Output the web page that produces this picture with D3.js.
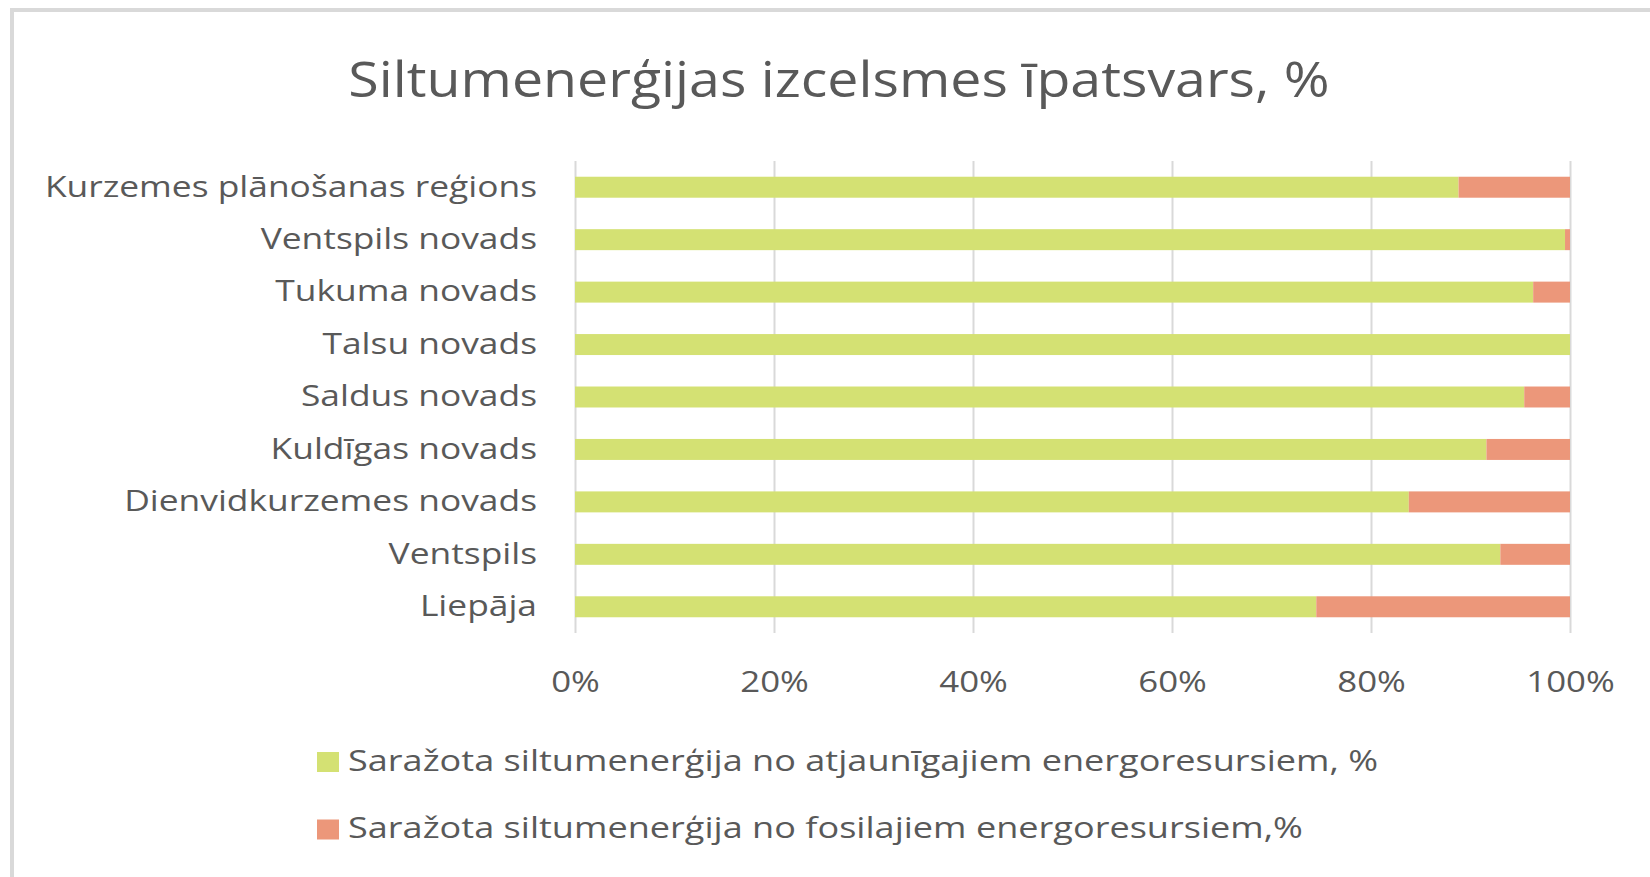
<!DOCTYPE html>
<html>
<head>
<meta charset="utf-8">
<script src="https://cdn.jsdelivr.net/npm/d3@7"></script>
<style>
    body { margin: 0; background: #fff; }
    text { font-family: "Open Sans", sans-serif; fill: #595959; }
</style>
</head>
<body>
<script>
// data from the chart
var categories = ["Kurzemes plānošanas reģions", "Ventspils novads", "Tukuma novads", "Talsu novads",
    "Saldus novads", "Kuldīgas novads", "Dienvidkurzemes novads", "Ventspils", "Liepāja"];
var renewable = [88.8, 99.5, 96.3, 100, 95.4, 91.6, 83.8, 93.0, 74.5];
var fossil = [11.2, 0.5, 3.7, 0, 4.6, 8.4, 16.2, 7.0, 25.5];
var xTicks = [0, 20, 40, 60, 80, 100];
var seriesNames = ["Saražota siltumenerģija no atjaunīgajiem energoresursiem, %",
    "Saražota siltumenerģija no fosilajiem energoresursiem,%"];
var colors = ["#d4e173", "#ec977a"];
var title = "Siltumenerģijas izcelsmes īpatsvars, %";

var W = 1650, H = 877;
// plot area (window.top is taken, so own names)
var plotLeft = 575, plotRight = 1570, plotTop = 161, plotBottom = 633;

var svg = d3.select("body").append("svg")
    .attr("width", W)
    .attr("height", H);

// grey chart frame (only top and left are in the picture)
svg.append("rect")
    .attr("x", 12).attr("y", 10)
    .attr("width", W + 20).attr("height", H + 20)
    .attr("fill", "none")
    .attr("stroke", "#d9d9d9")
    .attr("stroke-width", 4);

var rows = categories.map(function (c, i) {
    return { cat: c, a: renewable[i], b: fossil[i] };
});
var stack = d3.stack().keys(["a", "b"])(rows);

var x = d3.scaleLinear().domain([0, 100]).range([plotLeft, plotRight]);
var y = d3.scaleBand().domain(categories).range([plotTop, plotBottom]).paddingInner(0.6).paddingOuter(0.3);

// text in the picture is wider than the font, stretch it sideways
function stretch(sx) {
    return function (sel) {
        sel.each(function () {
            var t = d3.select(this);
            var tx = +t.attr("x") || 0;
            t.attr("x", tx / sx).attr("transform", "scale(" + sx + ",1)");
        });
    };
}

// gridlines
svg.append("g")
    .attr("transform", "translate(0," + plotBottom + ")")
    .call(d3.axisBottom(x).tickValues(xTicks).tickSize(-(plotBottom - plotTop)).tickFormat(""))
    .call(function (g) { g.select(".domain").remove(); })
    .selectAll("line").attr("stroke", "#d9d9d9").attr("stroke-width", 2);

// bars
svg.selectAll(".serie")
    .data(stack)
    .enter().append("g")
    .attr("fill", function (d, i) { return colors[i]; })
    .selectAll("rect")
    .data(function (d) { return d; })
    .enter().append("rect")
    .attr("x", function (d) { return x(d[0]); })
    .attr("width", function (d) { return x(d[1]) - x(d[0]); })
    .attr("y", function (d) { return y(d.data.cat); })
    .attr("height", y.bandwidth());

// x labels
var xAxis = svg.append("g")
    .attr("transform", "translate(0," + plotBottom + ")")
    .call(d3.axisBottom(x).tickValues(xTicks).tickSize(0).tickPadding(38)
        .tickFormat(function (d) { return d + "%"; }));
xAxis.select(".domain").remove();
xAxis.attr("font-family", null).attr("font-size", null);
xAxis.selectAll("text").attr("font-size", 29).attr("fill", null).call(stretch(1.2));

// y labels
var yAxis = svg.append("g")
    .attr("transform", "translate(" + plotLeft + ",0)")
    .call(d3.axisLeft(y).tickSize(0).tickPadding(38));
yAxis.select(".domain").remove();
yAxis.attr("font-family", null).attr("font-size", null);
yAxis.selectAll("text").attr("font-size", 29).attr("fill", null).call(stretch(1.22));

// title
svg.append("text")
    .attr("x", 839).attr("y", 97)
    .attr("text-anchor", "middle")
    .attr("font-size", 50)
    .text(title)
    .call(stretch(1.11));

// legend
var legend = svg.selectAll(".legend")
    .data(seriesNames)
    .enter().append("g")
    .attr("transform", function (d, i) { return "translate(317," + (752 + i * 67.5) + ")"; });
legend.append("rect")
    .attr("width", 22).attr("height", 20)
    .attr("fill", function (d, i) { return colors[i]; });
legend.append("text")
    .attr("x", 31).attr("y", 18.5)
    .attr("font-size", 29)
    .text(function (d) { return d; })
    .call(stretch(1.245));
</script>
</body>
</html>
